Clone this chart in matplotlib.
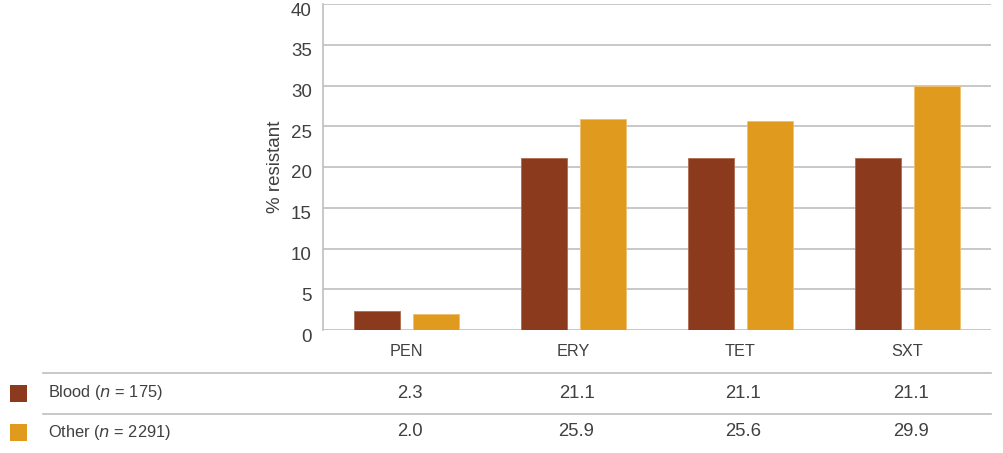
import matplotlib.pyplot as plt
import matplotlib.transforms as mtransforms
from matplotlib.patches import Rectangle
from matplotlib.lines import Line2D
import numpy as np

plt.rcParams['font.family'] = ['Liberation Sans', 'DejaVu Sans']

categories = ['PEN', 'ERY', 'TET', 'SXT']
blood = [2.3, 21.1, 21.1, 21.1]
other = [2.0, 25.9, 25.6, 29.9]
series_names = ['Blood', 'Other']
series_n = [175, 2291]
colors = ['#8B3A1E', '#E09A1E']
text_col = '#404040'
grid_col = '#BFBFBF'

W, H = 1004, 453
fig = plt.figure(figsize=(W / 100, H / 100), dpi=100)
ax = fig.add_axes([323 / W, (H - 330) / H, 668 / W, 326 / H])

x = np.arange(len(categories))
bw = 0.276
off = 0.176
ax.bar(x - off, blood, width=bw, color=colors[0], edgecolor='#B06A50', linewidth=0.6, zorder=3)
ax.bar(x + off, other, width=bw, color=colors[1], edgecolor='#F0C070', linewidth=0.6, zorder=3)

ax.set_xlim(-0.5, len(categories) - 0.5)
ax.set_ylim(0, 40)
ax.set_yticks(range(0, 41, 5))
ax.yaxis.grid(True, color=grid_col, linewidth=1.2, zorder=0)
ax.set_axisbelow(True)
for s in ['top', 'right', 'bottom']:
    ax.spines[s].set_visible(False)
ax.spines['left'].set_color(grid_col)
ax.spines['left'].set_linewidth(1.2)
ax.tick_params(axis='y', length=0, labelsize=13.5, colors=text_col, pad=8)
ax.set_xticks([])
ax.set_ylabel('% resistant', fontsize=13.5, color=text_col, labelpad=5)

# tick labels sit a little below their gridlines in the reference
shift = mtransforms.ScaledTranslation(0, -5 / 100, fig.dpi_scale_trans)
for lbl in ax.get_yticklabels():
    lbl.set_transform(lbl.get_transform() + shift)

# table below the chart
tr = mtransforms.blended_transform_factory(ax.transData, fig.transFigure)
val_tr = tr + mtransforms.ScaledTranslation(3 / 100, 0, fig.dpi_scale_trans)
for i, c in enumerate(categories):
    fig.text(x[i], 1 - 352 / H, c, transform=tr, ha='center', va='center',
             fontsize=11.7, color=text_col)
rows_y = [393, 432]
for r, vals in enumerate([blood, other]):
    for i, v in enumerate(vals):
        fig.text(x[i], 1 - rows_y[r] / H, f'{v:.1f}', transform=val_tr, ha='center',
                 va='center', fontsize=13.3, color=text_col)
    fig.patches.append(Rectangle((10 / W, 1 - (rows_y[r] + 9) / H), 17 / W, 17 / H,
                                 transform=fig.transFigure, facecolor=colors[r],
                                 edgecolor='none'))
    fig.text(48 / W, 1 - rows_y[r] / H,
             f'{series_names[r]} ($\\it{{n}}$ = {series_n[r]})',
             ha='left', va='center', fontsize=11.8, color=text_col)

for yl in [373, 413.5]:
    fig.lines.append(Line2D([43 / W, 991 / W], [1 - yl / H, 1 - yl / H],
                            transform=fig.transFigure, color=grid_col, linewidth=1.2))

fig.savefig('out.png', dpi=100)
